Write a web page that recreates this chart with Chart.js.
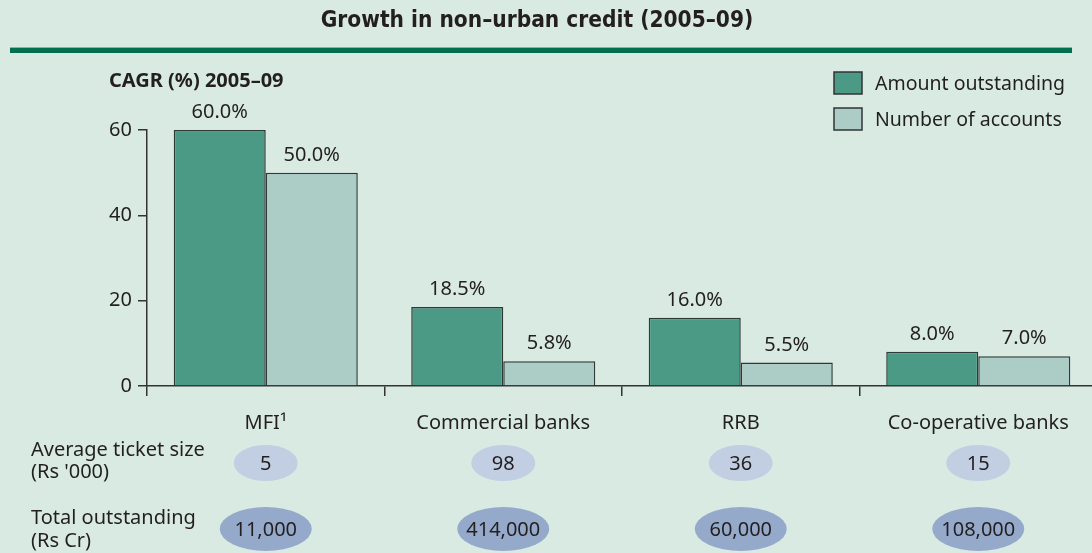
<!DOCTYPE html>
<html>
<head>
<meta charset="utf-8">
<title>Growth in non–urban credit</title>
<script src="https://cdn.jsdelivr.net/npm/chart.js@4.4.0/dist/chart.umd.min.js"></script>
<style>
  html, body { margin: 0; padding: 0; background: #d9eae3; overflow: hidden; }
  #wrap { position: relative; width: 1092px; height: 553px; overflow: hidden; }
  #creditChart { position: absolute; left: 0; top: 0; }
</style>
</head>
<body>
<div id="wrap"><canvas id="creditChart" width="1100" height="553"></canvas></div>
<script>
// Dados
const categories = ['MFI¹', 'Commercial banks', 'RRB', 'Co-operative banks'];
const amountGrowth = [60.0, 18.5, 16.0, 8.0];
const accountGrowth = [50.0, 5.8, 5.5, 7.0];
const yTicks = [0, 20, 40, 60];
const ticketSize = [5, 98, 36, 15];
const totalOutstanding = [11000, 414000, 60000, 108000];

const seriesNames = ['Amount outstanding', 'Number of accounts'];
const seriesColors = ['#4a9a86', '#abcdc6'];

const INK = '#231f20';
const TEXT_FONT = "'Noto Sans', 'Open Sans', sans-serif";

Chart.defaults.color = INK;
Chart.defaults.font.family = TEXT_FONT;

/**
 * Titulo, legenda, rotulos e linhas de elipses
 */
const decorPlugin = {
  id: 'decor',
  beforeDraw(chart) {
    const ctx = chart.ctx;
    ctx.save();
    ctx.fillStyle = '#d9eae3';
    ctx.fillRect(0, 0, chart.width, chart.height);

    // Titulo
    ctx.fillStyle = INK;
    ctx.textAlign = 'center';
    ctx.textBaseline = 'middle';
    ctx.font = "bold 22.5px 'DejaVu Sans Condensed', 'DejaVu Sans', sans-serif";
    ctx.fillText('Growth in non–urban credit (2005–09)', 537, 21);

    // Linha verde
    ctx.fillStyle = '#00704f';
    ctx.fillRect(10, 48, 1062, 5);
    ctx.fillStyle = '#7fb9a6';
    ctx.fillRect(10, 47, 1062, 1);

    // Subtitulo do eixo
    ctx.fillStyle = INK;
    ctx.textAlign = 'left';
    ctx.font = "bold 20px " + TEXT_FONT;
    ctx.fillText('CAGR (%) 2005–09', 109, 81);

    // Legenda
    ctx.font = "19.5px " + TEXT_FONT;
    seriesNames.forEach((name, i) => {
      const y = 83 + i * 36;
      ctx.fillStyle = seriesColors[i];
      ctx.fillRect(834, y - 11, 28, 22);
      ctx.strokeStyle = '#333';
      ctx.lineWidth = 1.5;
      ctx.strokeRect(834, y - 11, 28, 22);
      ctx.fillStyle = INK;
      ctx.fillText(name, 875, y + 1);
    });

    // Rotulos das linhas de baixo
    ctx.font = "20px " + TEXT_FONT;
    ctx.fillText('Average ticket size', 31, 450);
    ctx.fillText("(Rs '000)", 31, 472);
    ctx.fillText('Total outstanding', 31, 518);
    ctx.fillText('(Rs Cr)', 31, 541);
    ctx.restore();
  },
  afterDatasetsDraw(chart) {
    const ctx = chart.ctx;
    const xScale = chart.scales.x;
    ctx.save();
    ctx.fillStyle = INK;
    ctx.textAlign = 'center';
    ctx.textBaseline = 'alphabetic';
    ctx.font = "20px " + TEXT_FONT;

    // Valores acima das barras
    chart.data.datasets.forEach((ds, di) => {
      chart.getDatasetMeta(di).data.forEach((bar, i) => {
        ctx.fillText(ds.data[i].toFixed(1) + '%', bar.x, bar.y - 12);
      });
    });

    // Elipses com ticket medio e total
    ctx.textBaseline = 'middle';
    ctx.font = "20px " + TEXT_FONT;
    categories.forEach((c, i) => {
      const cx = xScale.getPixelForValue(i);

      ctx.fillStyle = '#c2cfe3';
      ctx.beginPath();
      ctx.ellipse(cx, 463, 32, 18, 0, 0, Math.PI * 2);
      ctx.fill();
      ctx.fillStyle = INK;
      ctx.fillText(ticketSize[i].toLocaleString('en-US'), cx, 464);

      ctx.fillStyle = '#95aacb';
      ctx.beginPath();
      ctx.ellipse(cx, 529, 46, 22, 0, 0, Math.PI * 2);
      ctx.fill();
      ctx.fillStyle = INK;
      ctx.fillText(totalOutstanding[i].toLocaleString('en-US'), cx, 530);
    });
    ctx.restore();
  }
};

const ctx = document.getElementById('creditChart').getContext('2d');

const creditChart = new Chart(ctx, {
  type: 'bar',
  data: {
    labels: categories,
    datasets: [
      {
        label: seriesNames[0],
        data: amountGrowth,
        backgroundColor: seriesColors[0],
        borderColor: '#2e3a36',
        borderWidth: 1.5
      },
      {
        label: seriesNames[1],
        data: accountGrowth,
        backgroundColor: seriesColors[1],
        borderColor: '#2e3a36',
        borderWidth: 1.5
      }
    ]
  },
  options: {
    responsive: false,
    animation: false,
    devicePixelRatio: 1,
    layout: {
      padding: { top: 130, left: 0, right: 3, bottom: 0 }
    },
    datasets: {
      bar: {
        barPercentage: 1,
        categoryPercentage: 0.775
      }
    },
    plugins: {
      legend: { display: false },
      tooltip: { enabled: false }
    },
    scales: {
      x: {
        afterFit: (scale) => { scale.height = 167; },
        border: { display: true, color: '#333', width: 1.5 },
        grid: {
          offset: true,
          drawOnChartArea: false,
          drawTicks: true,
          tickLength: 10,
          color: '#333',
          lineWidth: 1.5
        },
        ticks: {
          padding: 15,
          maxRotation: 0,
          font: { size: 20 },
          color: INK
        }
      },
      y: {
        min: 0,
        max: 60,
        afterFit: (scale) => { scale.width = 147; },
        afterBuildTicks: (scale) => { scale.ticks = yTicks.map(v => ({ value: v })); },
        border: { display: true, color: '#333', width: 1.5 },
        grid: {
          drawOnChartArea: false,
          tickLength: 9,
          color: '#333',
          lineWidth: 1.5
        },
        ticks: {
          padding: 6,
          font: { size: 20 },
          color: INK
        }
      }
    }
  },
  plugins: [decorPlugin]
});
</script>
</body>
</html>
